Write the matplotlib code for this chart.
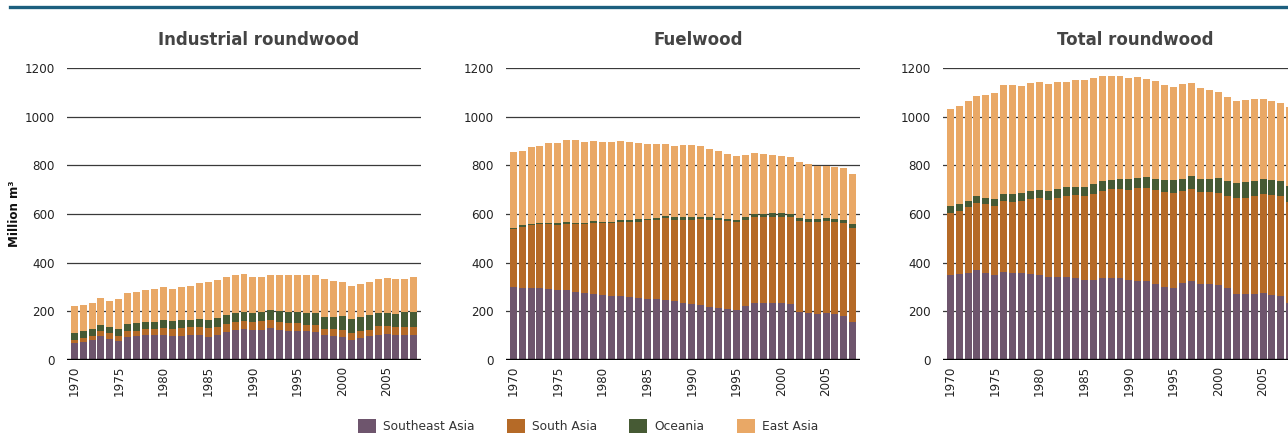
import matplotlib
matplotlib.use("Agg")
import matplotlib.pyplot as plt
from matplotlib.patches import Patch
import numpy as np

years = list(range(1970, 2009))
tick_years = [1970, 1975, 1980, 1985, 1990, 1995, 2000, 2005]
regions = ["Southeast Asia", "South Asia", "Oceania", "East Asia"]
colors = ["#6e556d", "#b56a27", "#465a34", "#e9a866"]

# Industrial roundwood (million m3)
ind_se = [68, 73, 81, 97, 85, 77, 93, 97, 101, 101, 101, 97, 97, 101, 101, 93, 101, 114, 122, 126,
          122, 122, 130, 122, 118, 118, 118, 114, 101, 97, 93, 81, 89, 97, 101, 105, 101, 101, 101]
ind_s = [16, 16, 16, 21, 25, 21, 25, 21, 25, 25, 29, 29, 33, 33, 33, 37, 33, 33, 33, 33,
         33, 37, 33, 33, 33, 33, 25, 29, 25, 29, 29, 29, 29, 25, 37, 33, 33, 33, 33]
ind_o = [25, 29, 29, 25, 25, 29, 29, 33, 29, 29, 33, 33, 33, 29, 33, 33, 37, 37, 37, 37,
         37, 37, 41, 45, 45, 45, 49, 49, 49, 49, 57, 57, 57, 62, 57, 57, 57, 62, 62]
ind_e = [111, 107, 107, 111, 107, 123, 127, 127, 131, 136, 136, 131, 136, 140, 148, 156, 156, 156, 156, 156,
         148, 144, 144, 148, 152, 152, 156, 156, 156, 148, 140, 136, 136, 136, 136, 140, 140, 136, 144]

# Fuelwood
fuel_se = [299, 295, 295, 295, 291, 286, 286, 278, 274, 270, 266, 262, 262, 258, 254, 250, 250, 246, 241, 233,
           229, 225, 217, 213, 209, 205, 221, 233, 233, 233, 233, 229, 196, 192, 188, 192, 188, 180, 155]
fuel_s = [241, 250, 258, 262, 266, 270, 274, 282, 286, 295, 299, 303, 307, 311, 315, 327, 327, 336, 336, 344,
          348, 356, 360, 364, 364, 364, 356, 356, 356, 356, 356, 360, 376, 376, 381, 381, 381, 385, 389]
fuel_o = [4, 8, 4, 4, 8, 8, 8, 4, 4, 8, 4, 4, 8, 8, 12, 4, 8, 8, 12, 12,
          12, 8, 12, 8, 8, 8, 12, 12, 12, 16, 16, 12, 12, 12, 12, 12, 12, 12, 16]
fuel_e = [311, 307, 319, 319, 327, 327, 336, 340, 331, 327, 327, 327, 323, 319, 311, 307, 303, 299, 291, 295,
          295, 291, 278, 274, 266, 262, 254, 250, 246, 237, 233, 233, 229, 225, 217, 213, 213, 213, 205]

# Total roundwood
tot_se = [348, 352, 356, 368, 356, 348, 360, 356, 356, 352, 348, 340, 340, 340, 336, 327, 327, 336, 336, 336,
          327, 323, 323, 311, 299, 295, 315, 323, 311, 311, 307, 295, 270, 270, 270, 274, 266, 262, 233]
tot_s = [258, 262, 274, 278, 286, 286, 295, 295, 299, 311, 319, 319, 327, 336, 344, 348, 356, 360, 368, 368,
         372, 385, 385, 389, 393, 393, 381, 381, 381, 381, 381, 381, 397, 397, 405, 409, 413, 413, 417]
tot_o = [25, 29, 25, 29, 25, 29, 29, 33, 33, 33, 33, 37, 37, 33, 33, 37, 41, 41, 37, 41,
         45, 41, 45, 45, 49, 53, 49, 53, 53, 53, 61, 61, 61, 65, 61, 61, 61, 61, 65]
tot_e = [401, 401, 409, 409, 421, 434, 446, 446, 438, 442, 442, 438, 438, 434, 438, 438, 434, 430, 426, 421,
         413, 413, 401, 401, 389, 381, 389, 381, 372, 364, 352, 344, 336, 336, 336, 327, 323, 319, 323]

panels = [
    ("Industrial roundwood", [ind_se, ind_s, ind_o, ind_e]),
    ("Fuelwood", [fuel_se, fuel_s, fuel_o, fuel_e]),
    ("Total roundwood", [tot_se, tot_s, tot_o, tot_e]),
]

W, H = 1288, 436
fig = plt.figure(figsize=(W / 100, H / 100), dpi=100)

# teal rule at the top
fig.add_artist(plt.Line2D([10 / W, 1], [1 - 7 / H, 1 - 7 / H], color="#1c5f7e", lw=2.4))

lefts = [67, 506, 943]
x = np.arange(len(years))
for (title, series), left in zip(panels, lefts):
    ax = fig.add_axes([left / W, 76 / H, 354 / W, 292 / H])
    bottom = np.zeros(len(years))
    for vals, c in zip(series, colors):
        ax.bar(x, vals, bottom=bottom, width=0.78, color=c, zorder=2)
        bottom += np.array(vals)
    ax.set_ylim(0, 1200)
    ax.set_xlim(-0.8, len(years) - 0.2)
    ax.set_yticks(range(0, 1201, 200))
    ax.set_xticks([years.index(y) for y in tick_years])
    ax.set_xticklabels([str(y) for y in tick_years], rotation=90)
    for yv in range(200, 1201, 200):
        ax.axhline(yv, color="#3a3a3a", lw=0.9, zorder=1)
    ax.axhline(0, color="black", lw=2.4, zorder=3)
    for s in ax.spines.values():
        s.set_visible(False)
    ax.tick_params(axis="y", length=0, pad=9, labelsize=8.6, labelcolor="#222222")
    ax.tick_params(axis="x", length=0, pad=4, labelsize=8.6, labelcolor="#222222")
    ax.text(0.5 + 15 / 354, 1.096, title, transform=ax.transAxes, ha="center", va="center",
            fontsize=12, fontweight="bold", color="#444444")
    if left == 67:
        ax.set_ylabel("Million m³", fontsize=8.6, fontweight="bold", labelpad=2, color="#111111")

handles = [Patch(facecolor=c, edgecolor="none") for c in colors]
leg = fig.legend(handles, regions, loc="center", bbox_to_anchor=(588 / W, 10 / H), ncol=4,
                 frameon=False, fontsize=8.8, handlelength=1.5, handleheight=1.35,
                 handletextpad=0.6, columnspacing=2.6, borderpad=0)
for t in leg.get_texts():
    t.set_color("#333333")

fig.savefig("out.png", dpi=100)
